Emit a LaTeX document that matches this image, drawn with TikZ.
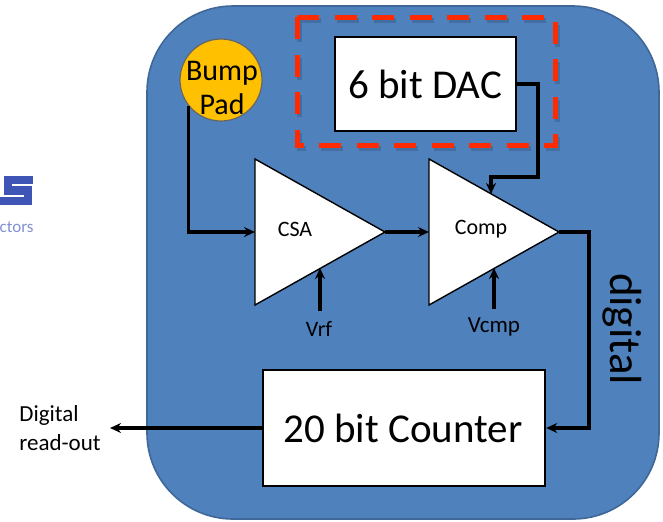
\documentclass[tikz,border=0pt]{standalone}
\usepackage{fontspec}
\setmainfont{Carlito}
\usetikzlibrary{arrows.meta}
\definecolor{panel}{HTML}{4F81BD}
\definecolor{logo}{HTML}{3F55B5}
\definecolor{padfill}{HTML}{FFC000}
\definecolor{dashred}{HTML}{FF2A00}
\tikzset{
  x=0.5pt,y=-0.5pt,
  wire/.style={line width=1.6pt,-{Stealth[length=5.5pt,width=5pt]},line join=miter},
  box/.style={draw=black,fill=white,line width=1.2pt,inner sep=0pt},
  amp/.style={draw=black,fill=white,line width=0.7pt},
  lbl/.style={inner sep=0pt,text=black},
  small/.style={font=\fontsize{11pt}{13pt}\selectfont},
  big/.style={font=\fontsize{20.5pt}{23pt}\selectfont},
  dacdash/.style={line width=2.5pt,dash pattern=on 11pt off 7.75pt}
}
\begin{document}
\begin{tikzpicture}
\useasboundingbox (0,0) rectangle (663,521);
% logo fragment
\begin{scope}
\clip (0,170) rectangle (40,240);
\node[lbl,anchor=east,text=logo!65,font=\fontsize{8.5pt}{10pt}\selectfont] (logotext) at (34,227) {ctors};
\draw[logo,line width=4.2pt] (33,180) -- (8,180) -- (8,190.5) -- (28,190.5) -- (28,201) -- (0,201);
\end{scope}
% panel
\draw[panel!80!black,line width=0.8pt,fill=panel,rounded corners=43pt] (147,6) rectangle (659,519);
% DAC highlight
\draw[black,opacity=.14,dacdash] (299,20) -- (557,20) -- (557,148) -- (299,148) -- cycle;
\draw[dashred,dacdash] (297,17) -- (555,17) -- (555,145) -- (297,145) -- cycle;
% nodes
\node[box,minimum width=90.5pt,minimum height=47pt] (dac) at (425.5,84) {};
\node[lbl,big] (dactext) at (425,84) {6 bit DAC};
\node[box,minimum width=141pt,minimum height=58pt] (counter) at (404,428) {};
\node[lbl,big] (countertext) at (403,428) {20 bit Counter};
\node[circle,draw=black!60,fill=padfill,line width=0.6pt,minimum size=41pt,inner sep=0pt] (pad) at (221,80) {};
\node[lbl,align=center,font=\fontsize{15pt}{17pt}\selectfont] (padtext) at (222,88) {Bump\\Pad};
% amps
\path[amp] (255,159) -- (385,232) -- (255,305) -- cycle;
\coordinate (csaw) at (255,232);
\coordinate (csae) at (385,232);
\coordinate (csab) at (320,268);
\path[amp] (429,159) -- (559,232) -- (429,305) -- cycle;
\coordinate (cmpw) at (429,232);
\coordinate (cmpe) at (559,232);
\coordinate (cmpb) at (494,268);
\coordinate (cmpt) at (491,194);
\node[lbl,small] (csa) at (295,229) {CSA};
\node[lbl,small] (cmp) at (481,229) {Comp};
\node[lbl,small] (vrf) at (319,329) {Vrf};
\node[lbl,font=\fontsize{11.5pt}{13pt}\selectfont] (vcmp) at (494,327) {Vcmp};
\node[lbl,rotate=-90,font=\fontsize{22.5pt}{25pt}\selectfont] (digital) at (622,329) {digital};
\node[lbl,align=left,anchor=west,font=\fontsize{11.5pt}{14.5pt}\selectfont] (readout) at (19,428) {Digital\\read-out};
\coordinate (out) at (110,428);
% connectors
\draw[wire] (pad.219) |- (csaw);
\draw[wire] (csae) -- (cmpw);
\draw[wire] (dac.east) -- (538,84) -- (538,177) -- (491,177) -- (cmpt);
\draw[wire] (320,311) -- (csab);
\draw[wire] (494,309) -- (cmpb);
\draw[wire] (cmpe) -- (589,232) -- (589,428) -- (counter.east);
\draw[wire] (counter.west) -- (out);
\end{tikzpicture}
\end{document}
